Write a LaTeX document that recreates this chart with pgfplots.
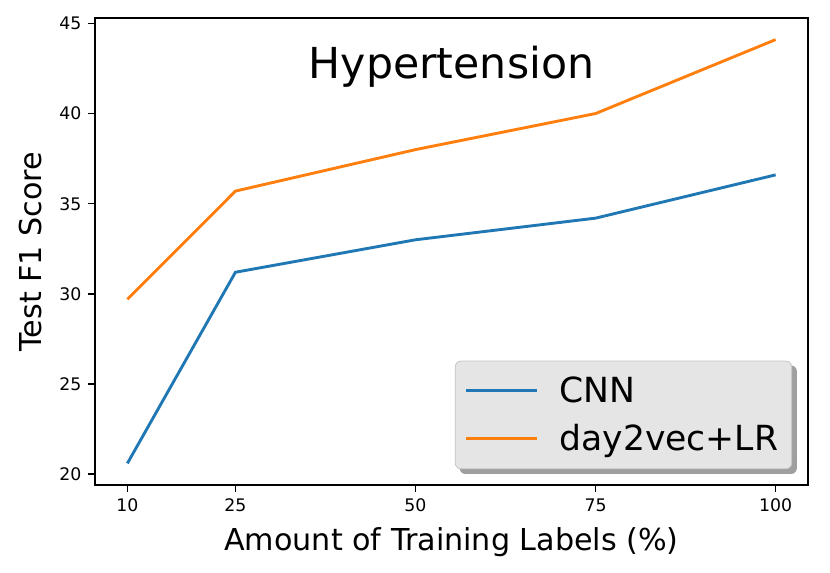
\documentclass[border=0pt]{standalone}
\usepackage{fontspec}
\setmainfont{DejaVu Sans}
\usepackage{pgfplots}
\pgfplotsset{compat=1.18}
\usetikzlibrary{backgrounds}

\definecolor{mplblue}{HTML}{1F77B4}
\definecolor{mplorange}{HTML}{FF7F0E}

\begin{document}
\begin{tikzpicture}
\begin{axis}[
    scale only axis,
    width=371pt,
    height=243pt,
    xmin=5.5, xmax=104.5,
    ymin=19.4, ymax=45.3,
    xtick={10,25,50,75,100},
    ytick={20,25,30,35,40,45},
    axis line style={line width=0.8pt},
    tick style={line width=0.8pt, black},
    tick align=outside,
    major tick length=3.5pt,
    xtick pos=bottom,
    ytick pos=left,
    /pgf/number format/assume math mode=true,
    ticklabel style={font=\fontsize{9}{10}\selectfont},
    xlabel={Amount of Training Labels (\%)},
    ylabel={Test F1 Score},
    label style={font=\fontsize{15.7}{18}\selectfont},
    xlabel style={at={(rel axis cs:0.5,-0.122)}, anchor=center},
    ylabel style={at={(rel axis cs:-0.091,0.5)}, anchor=center},
    legend cell align=left,
    legend style={
        name=leg,
        at={(0.9776,0.034)}, anchor=south east,
        fill=gray!20, draw=gray!45, rounded corners=3pt,
        font=\fontsize{18}{21}\selectfont,
        inner xsep=5pt, inner ysep=6pt,
        row sep=6pt,
    },
    legend image code/.code={
        \draw[#1] (0pt,0pt) -- (37pt,0pt);
        \path[draw=none] (0pt,0pt) -- (46.5pt,0pt);
    },
]
\addplot[mplblue, line width=1.5pt] coordinates {
    (10,20.6) (25,31.2) (50,33.0) (75,34.2) (100,36.6)
};
\addlegendentry{CNN}
\addplot[mplorange, line width=1.5pt] coordinates {
    (10,29.7) (25,35.7) (50,38.0) (75,40.0) (100,44.1)
};
\addlegendentry{day2vec+LR}
\node[font=\fontsize{22.2}{26}\selectfont] at (rel axis cs:0.5,0.895) {Hypertension};
\coordinate (bl) at (rel axis cs:-0.1332,-0.188);
\coordinate (tr) at (rel axis cs:1.0308,1.0385);
\end{axis}
\begin{pgfonlayer}{background}
\fill[gray!75, rounded corners=3pt]
    ([xshift=2.5pt,yshift=-2.5pt]leg.south west) rectangle
    ([xshift=2.5pt,yshift=-2.5pt]leg.north east);
\end{pgfonlayer}
\pgfresetboundingbox
\path (bl) rectangle (tr);
\end{tikzpicture}
\end{document}
